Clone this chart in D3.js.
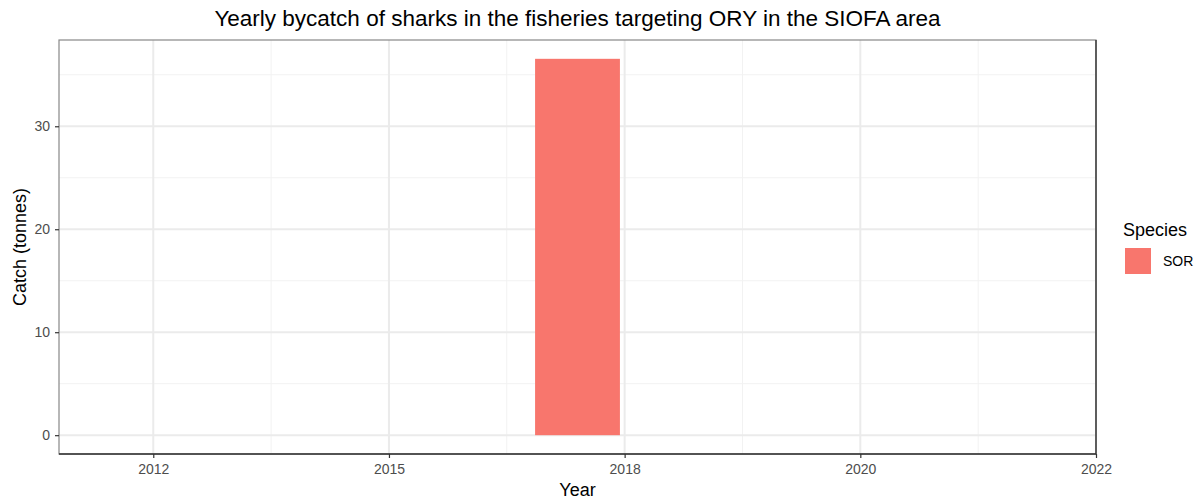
<!DOCTYPE html>
<html>
<head>
<meta charset="utf-8">
<script src="https://cdn.jsdelivr.net/npm/d3@7"></script>
<style>
  body { margin: 0; background: #fff; }
  svg { font-family: "Liberation Sans", Arial, sans-serif; }
</style>
</head>
<body>
<svg></svg>
<script>
// chart data
var years = [2017];
var catchTonnes = [36.55];
var species = ["SOR"];
var speciesColors = ["#F8766D"];
var xBreaks = [2012.5, 2015, 2017.5, 2020, 2022.5];
var xMinor = [2013.75, 2016.25, 2018.75, 2021.25];
var yBreaks = [0, 10, 20, 30];
var yMinor = [5, 15, 25, 35];

var width = 1201;
var height = 502;
var margin = { left: 59, right: 105, top: 40, bottom: 48 };

var svg = d3.select("svg")
  .attr("width", width)
  .attr("height", height);

var x = d3.scaleLinear()
  .domain([2011.5, 2022.5])
  .range([margin.left, width - margin.right]);

var yMax = d3.max(catchTonnes);
var y = d3.scaleLinear()
  .domain([-0.05 * yMax, yMax * 1.05])
  .range([height - margin.bottom, margin.top]);

var color = d3.scaleOrdinal().domain(species).range(speciesColors);

// grid lines
var grid = svg.append("g");
grid.selectAll(".yminor").data(yMinor).enter().append("line")
  .attr("x1", margin.left).attr("x2", width - margin.right)
  .attr("y1", function(d) { return y(d); }).attr("y2", function(d) { return y(d); })
  .attr("stroke", "#f2f2f2").attr("stroke-width", 1);
grid.selectAll(".xminor").data(xMinor).enter().append("line")
  .attr("y1", margin.top).attr("y2", height - margin.bottom)
  .attr("x1", function(d) { return x(d); }).attr("x2", function(d) { return x(d); })
  .attr("stroke", "#f2f2f2").attr("stroke-width", 1);
grid.selectAll(".ymajor").data(yBreaks).enter().append("line")
  .attr("x1", margin.left).attr("x2", width - margin.right)
  .attr("y1", function(d) { return y(d); }).attr("y2", function(d) { return y(d); })
  .attr("stroke", "#ebebeb").attr("stroke-width", 2);
grid.selectAll(".xmajor").data(xBreaks).enter().append("line")
  .attr("y1", margin.top).attr("y2", height - margin.bottom)
  .attr("x1", function(d) { return x(d); }).attr("x2", function(d) { return x(d); })
  .attr("stroke", "#ebebeb").attr("stroke-width", 2);

// bars
var barWidth = 0.9;
svg.selectAll(".bar")
  .data(years)
  .enter()
  .append("rect")
  .attr("class", "bar")
  .attr("x", function(d) { return x(d - barWidth / 2); })
  .attr("width", function(d) { return x(d + barWidth / 2) - x(d - barWidth / 2); })
  .attr("y", function(d, i) { return y(catchTonnes[i]); })
  .attr("height", function(d, i) { return y(0) - y(catchTonnes[i]); })
  .attr("fill", function(d, i) { return color(species[i]); });

// panel border
svg.append("rect")
  .attr("x", margin.left).attr("y", margin.top)
  .attr("width", width - margin.left - margin.right)
  .attr("height", height - margin.top - margin.bottom)
  .attr("fill", "none").attr("stroke", "#888").attr("stroke-width", 1.2);
svg.append("path")
  .attr("d", "M" + margin.left + "," + (height - margin.bottom) +
    "H" + (width - margin.right) + "V" + margin.top)
  .attr("fill", "none").attr("stroke", "#333").attr("stroke-width", 1.3);

// R rounds half to even: 2012.5 -> 2012, 2017.5 -> 2018, 2022.5 -> 2022
function roundEven(d) {
  var f = Math.floor(d);
  if (d - f === 0.5) return (f % 2 === 0) ? f : f + 1;
  return Math.round(d);
}

// axes
var xAxis = svg.append("g")
  .attr("transform", "translate(0," + (height - margin.bottom) + ")")
  .call(d3.axisBottom(x).tickValues(xBreaks).tickSize(4).tickPadding(6)
    .tickFormat(roundEven));

var yAxis = svg.append("g")
  .attr("transform", "translate(" + margin.left + ",0)")
  .call(d3.axisLeft(y).tickValues(yBreaks).tickSize(4).tickPadding(5));

[xAxis, yAxis].forEach(function(a) {
  a.select(".domain").remove();
  a.selectAll(".tick line").attr("stroke", "#333").attr("stroke-width", 1.2);
  a.selectAll(".tick text").attr("fill", "#4d4d4d").style("font-size", "14px")
    .style("font-family", "'Liberation Sans', Arial, sans-serif");
});

// titles
svg.append("text")
  .attr("x", (margin.left + width - margin.right) / 2)
  .attr("y", 26)
  .attr("text-anchor", "middle")
  .style("font-size", "22.5px")
  .attr("fill", "#000")
  .text("Yearly bycatch of sharks in the fisheries targeting ORY in the SIOFA area");

svg.append("text")
  .attr("x", (margin.left + width - margin.right) / 2)
  .attr("y", 496)
  .attr("text-anchor", "middle")
  .style("font-size", "18px")
  .text("Year");

svg.append("text")
  .attr("transform", "translate(26," + ((margin.top + height - margin.bottom) / 2) + ") rotate(-90)")
  .attr("text-anchor", "middle")
  .style("font-size", "18px")
  .text("Catch (tonnes)");

// legend
var legend = svg.append("g").attr("transform", "translate(1123,0)");
legend.append("text")
  .attr("x", 0).attr("y", 236)
  .style("font-size", "18px")
  .text("Species");
legend.selectAll(".key").data(species).enter().append("rect")
  .attr("x", 2).attr("y", function(d, i) { return 248 + i * 27; })
  .attr("width", 26).attr("height", 26)
  .attr("fill", function(d) { return color(d); });
legend.selectAll(".lab").data(species).enter().append("text")
  .attr("x", 40).attr("y", function(d, i) { return 266 + i * 27; })
  .style("font-size", "14px")
  .attr("fill", "#000")
  .text(function(d) { return d; });
</script>
</body>
</html>
